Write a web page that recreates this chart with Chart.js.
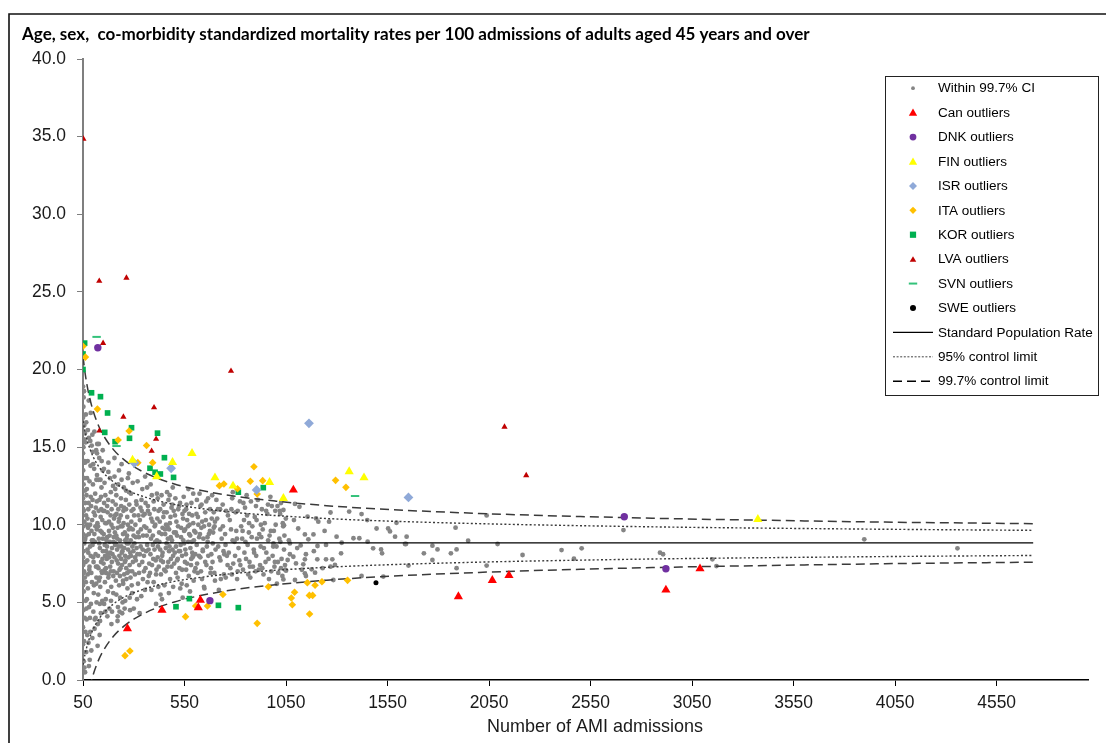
<!DOCTYPE html>
<html><head><meta charset="utf-8">
<script src="https://cdn.jsdelivr.net/npm/chart.js@4.4.1/dist/chart.umd.min.js"></script>
<style>html,body{margin:0;padding:0;background:#fff;overflow:hidden}#wrap{position:relative;width:1106px;height:743px}</style>
</head><body><div id="wrap"><canvas id="c" width="1106" height="743"></canvas></div>
<script>
// ---------- texts ----------
const titleText = 'Age, sex,  co-morbidity standardized mortality rates per 100 admissions of adults aged 45 years and over';
const xAxisTitle = 'Number of AMI admissions';
const legendLabels = ['Within 99.7% CI','Can outliers','DNK outliers','FIN outliers','ISR outliers','ITA outliers','KOR outliers','LVA outliers','SVN outliers','SWE outliers','Standard Population Rate','95% control limit','99.7% control limit'];

// ---------- ticks ----------
const xTicks = [50,550,1050,1550,2050,2550,3050,3550,4050,4550];
const xTickLabels = ['50','550','1050','1550','2050','2550','3050','3550','4050','4550'];
const yTicks = [0,5,10,15,20,25,30,35,40];
const yTickLabels = ['0.0','5.0','10.0','15.0','20.0','25.0','30.0','35.0','40.0'];

// ---------- control limits ----------
const limitN = [50,60,75,100,125,150,200,250,300,400,500,600,800,1000,1250,1500,2000,2500,3000,3500,4000,4500,4730];
const upper95 = [16.68,16.00,15.24,14.38,13.80,13.36,12.76,12.34,12.04,11.61,11.31,11.10,10.79,10.59,10.40,10.26,10.07,9.94,9.84,9.77,9.71,9.66,9.64];
const lower95 = [0.98,1.66,2.42,3.28,3.86,4.30,4.90,5.32,5.62,6.05,6.35,6.56,6.87,7.07,7.26,7.40,7.59,7.72,7.82,7.89,7.95,8.00,8.02];
const upper997 = [20.85,19.80,18.64,17.33,16.43,15.77,14.84,14.21,13.74,13.08,12.63,12.30,11.83,11.52,11.23,11.02,10.73,10.53,10.38,10.27,10.17,10.10,10.07];
const lower997 = [-3.19,-2.14,-0.98,0.33,1.23,1.89,2.82,3.45,3.92,4.58,5.03,5.36,5.83,6.14,6.43,6.64,6.93,7.13,7.28,7.39,7.49,7.56,7.59];
const stdRateN = [50,4730];
const stdRateV = [8.83,8.83];

// ---------- within 99.7% CI  [admissions, rate] ----------
const withinA = [[50,18.9],[53,12.6],[51,7.4],[55,15.5],[50,3.4],[57,10.2],[52,17.6],[54,5.7],[50,9.4],[58,14.1],[51,1.8],[53,8.3],[56,16.4],[50,11.7],[52,4.5],[59,6.6],[51,13.5],[55,2.5],[50,7.9],[54,10.9],[57,0.8],[52,15.0],[50,6.1],[53,18.2],[56,8.8],[51,11.0],[58,4.0],[50,14.6],[54,1.2],[52,9.9],[60,12.2],[55,7.0],[50,16.9],[62,3.1],[61,9.1],[57,13.0],[63,5.1],[64,17.1],[60,0.5],[50,2.3],[65,10.6],[53,6.9],[59,15.9]];
const withinB = [[67,11.9],[94,6.3],[128,9.1],[79,15.6],[112,4.0],[141,12.4],[71,7.7],[103,10.8],[135,6.0],[86,3.1],[119,13.2],[148,8.3],[75,9.8],[98,14.7],[126,7.2],[90,11.2],[145,5.1],[69,5.2],[108,8.9],[137,10.5],[82,12.8],[116,6.6],[147,13.5],[73,14.1],[101,4.4],[131,11.6],[88,8.0],[123,3.6],[77,2.4],[110,12.0],[139,7.6],[92,9.6],[66,16.6],[121,10.1],[84,6.9],[106,16.0],[143,9.5],[96,2.7],[130,14.3],[72,10.4],[114,7.3],[80,4.7],[133,8.5],[99,12.6],[125,5.5],[68,3.9],[87,13.8],[118,9.7],[149,10.9],[76,8.2],[104,6.1],[138,4.3],[93,15.1],[127,12.9],[81,7.1],[113,11.1],[144,6.9],[70,13.0],[97,8.7],[132,2.9],[85,10.0],[120,15.2],[74,5.9],[107,3.3],[140,11.0],[91,1.9],[124,8.0],[78,11.4],[111,9.9],[146,7.8],[83,1.3],[102,7.6],[136,12.9],[89,4.9],[117,5.0],[142,14.1],[95,10.3],[129,6.4],[105,13.6],[100,9.0],[88,17.2],[78,18.0],[115,14.8],[122,2.2],[134,3.8]];
const withinC = [[152,9.4],[187,12.1],[263,7.2],[214,5.5],[171,10.8],[239,8.6],[298,11.0],[158,6.3],[205,13.1],[276,9.7],[193,4.4],[226,10.2],[167,7.8],[251,12.4],[182,8.9],[290,6.1],[219,9.1],[160,11.9],[245,5.0],[201,7.0],[283,8.2],[175,13.4],[232,6.7],[268,10.5],[154,4.9],[211,11.3],[296,7.6],[189,6.0],[258,9.0],[223,12.6],[164,8.3],[280,5.3],[197,9.8],[242,7.4],[173,5.7],[286,12.0],[229,8.0],[156,12.7],[264,6.5],[208,8.7],[178,9.6],[249,10.9],[293,8.6],[216,7.7],[162,5.2],[237,11.7],[184,7.3],[271,13.0],[203,10.4],[255,4.6],[169,9.2],[299,9.3],[221,4.1],[191,11.0],[274,7.9],[235,9.9],[157,7.1],[212,6.4],[261,11.6],[180,4.6],[244,8.3],[195,8.1],[288,10.2],[227,13.5],[166,10.1],[253,6.8],[207,9.5],[282,4.5],[176,6.8],[240,12.9],[199,5.6],[266,8.8],[153,13.6],[230,7.1],[278,11.3],[186,10.6],[218,8.4],[247,9.4],[170,4.1],[292,5.6],[209,12.3],[257,8.0],[163,6.9],[233,5.3],[285,9.0],[192,7.6],[269,5.9],[224,11.0],[155,10.9],[248,6.2],[200,8.9],[277,7.0],[183,13.0],[236,10.6],[214,9.3],[262,12.2],[168,8.6],[295,12.7],[228,6.1],[188,5.1],[256,7.6],[174,11.6],[243,4.3],[215,10.7],[272,8.4],[159,8.0],[284,6.6],[198,12.5],[238,7.8],[267,9.3],[179,7.9],[220,3.8],[252,11.1]];
const withinD = [[303,8.8],[347,10.6],[412,7.1],[455,9.4],[508,6.9],[563,10.3],[321,6.2],[389,11.9],[440,8.0],[497,10.9],[552,7.6],[596,9.0],[335,9.7],[376,7.5],[428,10.2],[479,6.5],[531,8.7],[584,11.4],[312,11.5],[361,8.3],[403,9.9],[466,7.3],[519,11.0],[571,6.7],[327,7.4],[398,6.3],[447,11.3],[502,8.2],[548,9.6],[590,7.9],[342,12.3],[385,9.1],[434,6.8],[488,9.0],[540,10.7],[579,8.5],[308,10.0],[355,5.8],[419,8.6],[471,11.6],[525,7.2],[567,9.9],[330,8.1],[370,10.9],[425,9.5],[483,7.8],[536,6.2],[588,10.6],[316,5.2],[366,12.4],[408,7.7],[459,10.0],[513,9.3],[558,7.1],[339,10.9],[394,8.7],[451,6.1],[505,11.7],[557,8.1],[599,7.0],[325,9.2],[380,6.9],[437,11.9],[491,8.4],[544,9.0],[593,12.0],[350,7.0],[416,10.4],[462,8.8],[516,6.6],[575,10.0],[306,6.8],[358,11.4],[421,6.0],[474,9.7],[528,11.4],[582,7.4],[333,11.1],[392,10.2],[444,7.6],[499,7.5],[550,10.9],[319,12.8],[373,8.4],[430,8.4],[486,11.1],[538,8.0],[586,8.9],[345,6.5],[401,11.0],[457,7.0],[510,10.2],[561,6.1],[314,8.5],[364,9.3],[414,12.0],[468,9.1],[522,8.3],[573,9.4],[337,5.4],[387,5.8],[442,9.8],[494,6.0],[546,11.8],[595,6.4],[352,9.9],[406,8.9],[464,12.1],[517,7.8],[569,12.3],[310,7.7],[378,10.7],[432,5.5],[481,10.5],[533,9.8],[577,5.7],[323,10.6],[368,6.3],[423,7.3],[476,8.6],[529,5.9],[591,8.0],[344,8.4],[396,7.8],[449,10.8],[507,9.5],[554,8.4],[300,4.6],[383,12.6],[439,5.2],[492,12.4],[560,11.3],[329,4.3],[410,4.9],[473,5.6],[541,5.3],[356,13.1],[418,11.7],[477,11.9]];
const withinE = [[604,9.5],[652,7.6],[711,10.4],[768,8.2],[829,9.9],[887,7.3],[945,10.1],[1003,8.6],[628,11.2],[689,8.8],[744,6.8],[801,10.8],[861,8.7],[918,9.4],[977,7.0],[1036,9.9],[615,6.9],[671,10.0],[733,9.1],[790,7.5],[848,11.1],[903,8.0],[962,9.0],[1021,10.7],[640,8.3],[700,6.4],[755,10.9],[816,8.5],[874,6.6],[931,11.0],[990,9.6],[1045,7.4],[609,10.7],[663,9.2],[722,7.9],[779,9.7],[838,7.1],[896,10.5],[953,8.2],[1012,6.9],[646,6.0],[707,11.6],[762,7.4],[823,11.5],[881,9.2],[939,6.8],[997,10.9],[633,9.8],[694,10.8],[750,9.4],[809,6.5],[868,10.1],[925,8.6],[984,8.0],[1040,8.4],[621,8.0],[680,7.2],[738,11.3],[796,8.9],[853,7.8],[911,11.6],[969,9.3],[1028,7.8],[657,11.5],[716,8.6],[773,10.3],[834,9.1],[891,8.4],[949,7.6],[1008,11.2],[612,7.5],[675,9.6],[729,6.5],[785,11.7],[843,10.3],[900,7.0],[958,10.7],[1017,9.1],[637,10.2],[698,9.9],[759,8.0],[820,7.7],[877,11.5],[935,9.7],[993,7.3],[1049,10.4],[624,12.0],[686,11.9],[742,8.3],[805,9.6],[864,6.8],[922,7.4],[980,11.2],[1032,6.7],[660,8.6],[726,9.7],[783,6.8],[845,8.2],[907,9.1],[966,6.5],[1025,11.4],[648,5.9],[719,5.8],[788,12.1],[856,11.9],[973,11.8],[1005,6.2]];
const withinF = [[1037,10.95],[1116,11.16],[1094,11.34],[1040,9.96],[1156,10.52],[1198,10.41],[1209,10.2],[1269,10.79],[1361,10.85],[1422,10.69],[1450,10.3],[1594,10.13],[1496,9.76],[1553,9.76],[1562,9.57],[1587,9.23],[1644,9.23],[1641,8.76],[1885,9.81],[1947,8.97],[1110,9.76],[1143,9.38],[1185,9.38],[1160,9.06],[1299,9.23],[1382,9.13],[1411,9.13],[1452,8.91],[1069,8.8],[1122,8.67],[1205,8.63],[1247,8.7],[1324,8.84],[1321,8.16],[1479,8.48],[1518,8.41],[1523,8.16],[1636,8.76],[1729,8.16],[1771,8.65],[1796,8.41],[1862,8.16],[1890,8.41],[2092,8.76],[2215,8.05],[1148,8.1],[1069,8.1],[1086,7.94],[1058,7.73],[1099,7.51],[1135,7.45],[1143,7.77],[1204,7.77],[1247,7.77],[1278,7.77],[1291,7.41],[1269,7.3],[1025,7.2],[1050,7.04],[1176,7.13],[1230,7.2],[1653,7.37],[1771,7.73],[1890,7.2],[2038,7.37],[1143,6.87],[1193,6.91],[1148,6.7],[1422,6.7],[1529,6.66],[1037,6.48],[1094,6.44],[1283,6.44],[2038,10.6],[2712,9.66],[3898,9.06],[4357,8.48],[2407,8.37],[2506,8.48],[2468,7.81],[2892,8.2],[2907,8.1],[3150,7.77],[3170,7.34]];
const withinG = [[58,9.0],[61,11.4],[63,7.6],[66,9.3],[69,12.3],[72,8.4],[64,6.3],[67,4.6],[70,10.0],[73,6.8],[76,11.0],[79,9.4],[82,7.3],[85,8.6],[88,11.8],[91,6.9],[94,9.0],[97,11.6],[100,7.9],[103,5.6],[106,9.4],[109,10.6],[112,8.1],[115,6.2],[118,11.5],[121,7.3],[124,9.9],[127,10.9],[130,8.8],[133,6.6],[136,9.6],[139,11.8],[142,7.0],[145,10.3],[148,9.1],[151,7.5],[154,11.4],[157,8.7],[160,10.1],[163,7.2],[166,9.0],[169,11.2],[172,8.1],[175,6.6],[178,10.2],[181,9.3],[184,8.2],[187,7.0],[190,10.0],[193,8.5],[196,11.5],[199,6.7],[202,9.2],[205,7.9],[208,10.6],[211,8.8],[214,11.9],[217,6.9],[220,9.8],[223,7.5],[226,8.6],[229,10.4],[232,9.0],[235,7.2],[238,11.2],[241,8.2],[244,9.9],[247,6.4],[250,10.1],[253,8.5],[256,9.5],[259,7.7],[262,11.0],[265,9.1],[268,6.9],[271,10.0],[274,8.8],[277,12.1],[280,7.4],[283,9.8],[286,8.0],[289,10.9],[292,7.0],[295,9.7],[298,8.3],[302,10.6],[306,7.9],[310,9.2],[314,11.3],[318,8.1],[322,9.5],[326,6.9],[330,10.3],[334,8.6],[338,11.6],[342,7.6],[346,9.3],[350,8.0],[354,10.7],[358,7.2],[362,9.8],[366,8.7],[370,11.2],[374,6.7],[378,9.6],[382,8.1],[386,10.4],[390,7.4],[394,9.3],[398,11.5],[402,8.4],[406,10.0],[410,6.8],[414,9.0],[418,7.9],[422,10.9],[426,8.9],[430,11.0],[434,7.7],[438,9.4],[442,8.2],[446,10.5],[450,7.1],[454,9.7],[458,8.5],[462,10.8],[466,9.9],[470,7.6],[474,8.3],[478,10.1],[482,9.2],[486,7.3],[490,11.3],[494,8.0],[498,9.5],[503,10.6],[508,8.6],[513,7.7],[518,9.9],[523,11.2],[528,8.3],[533,9.2],[538,7.1],[543,10.4],[548,8.8],[553,9.7],[558,11.0],[563,7.5],[568,8.9],[573,10.7],[578,9.3],[583,7.8],[588,8.2],[593,10.1],[598,9.6],[604,7.2],[610,8.7],[616,10.5],[622,9.2],[628,7.9],[634,11.3],[640,8.4],[646,9.9],[652,10.8],[658,7.4],[664,8.9],[670,9.4],[676,11.0],[682,8.1],[688,7.6],[694,9.8],[700,10.2],[71,2.9],[84,4.0],[96,15.8],[108,3.9],[119,14.6],[133,4.9],[147,14.8],[160,4.4],[175,14.0],[190,3.6],[205,14.3],[222,4.7],[240,13.9],[258,5.1],[276,13.3],[230,4.4],[66,1.8],[79,0.9],[60,14.0],[55,18.6],[62,15.3],[74,16.1],[86,15.4],[100,13.9],[116,12.9],[128,15.2]];
const withinH = [[603,8.1],[618,10.0],[631,7.0],[643,9.1],[655,10.3],[667,8.0],[678,6.9],[691,9.5],[703,8.4],[714,11.0],[727,7.7],[739,9.9],[752,8.7],[764,10.6],[776,7.2],[787,9.0],[799,8.0],[812,10.9],[825,7.4],[836,9.6],[850,8.9],[858,10.6],[870,7.6],[884,9.9],[893,8.2],[905,10.3],[916,7.1],[928,9.2],[941,8.5],[952,10.9],[964,7.8],[975,9.6],[987,8.6],[999,10.0],[1010,7.6],[1022,8.9],[1034,10.1],[1046,7.1],[611,11.6],[636,6.5],[666,11.7],[697,6.9],[725,11.0],[753,6.6],[781,11.0],[812,7.0],[840,11.4],[872,7.3],[902,11.2],[933,7.2],[961,11.3],[995,7.6],[1019,10.9],[626,9.4],[684,10.4],[746,8.1],[808,9.1],[867,9.5],[926,10.0],[988,8.8],[1042,9.3],[1064,9.0],[1089,10.3],[1105,8.5],[1128,7.1],[1187,8.3],[1240,9.6],[1262,10.2]];

// ---------- outliers ----------
const canOut = [[1086,12.24],[269,3.31],[439,4.51],[618,4.66],[628,5.15],[1899,5.37],[2066,6.42],[2148,6.74],[2921,5.8],[3089,7.17]];
const dnkOut = [[123,21.4],[675,5.11],[2716,10.52],[2921,7.17]];
const finOut = [[294,14.17],[491,14.02],[587,14.6],[413,13.1],[700,13.03],[789,12.5],[969,12.73],[1037,11.7],[1361,13.42],[1434,13.03],[3374,10.35]];
const isrOut = [[303,13.97],[484,13.64],[905,12.24],[1163,16.53],[1653,11.76]];
const itaOut = [[50,21.5],[62,20.8],[121,17.45],[277,16.04],[223,15.46],[363,15.1],[320,14.0],[393,14.0],[892,13.74],[744,12.62],[722,12.52],[874,12.8],[935,12.84],[811,12.32],[908,11.98],[1294,12.86],[1345,12.41],[963,6.01],[739,5.51],[605,4.77],[663,4.77],[555,4.08],[908,3.65],[281,1.87],[257,1.57],[1155,6.27],[1092,5.65],[1193,6.1],[1227,6.33],[1353,6.42],[1076,5.28],[1165,5.45],[1181,5.45],[1081,4.85],[1166,4.25]];
const korOut = [[58,21.7],[50,21.0],[50,20.0],[92,18.5],[136,18.25],[171,17.2],[157,15.95],[289,16.25],[208,15.35],[279,15.57],[417,15.9],[451,14.32],[380,13.64],[405,13.38],[431,13.27],[496,13.05],[815,12.1],[938,12.39],[574,5.24],[717,4.81],[815,4.66],[508,4.72]];
const lvaOut = [[52,34.85],[130,25.7],[264,25.9],[149,21.7],[779,19.9],[400,17.55],[249,16.95],[131,16.05],[410,15.52],[388,14.75],[2126,16.3],[2233,13.18]];
const svnOut = [[117,22.1],[215,15.07],[1390,11.85]];
const sweOut = [[1493,6.27]];

// ---------- helpers ----------
const pts = arr => arr.map(p => ({x:p[0], y:p[1]}));
const line = (ns, vs) => ns.map((n,i) => ({x:n, y:vs[i]}));
const mctx = document.createElement('canvas').getContext('2d');
function fit(text, font, target){ mctx.font = font.replace('{s}','100px'); return 100*target/mctx.measureText(text).width; }
const sansFam = '"Liberation Sans", Arial, sans-serif';
const titleFam = 'Lato, "Open Sans", sans-serif';
const tickSize = fit('40.0', '{s} ' + sansFam, 34);
const axisTitleSize = fit(xAxisTitle, '{s} ' + sansFam, 216);
const legendSize = fit('Standard Population Rate', '{s} ' + sansFam, 155);
const titleSize = fit(titleText, 'bold {s} ' + titleFam, 788);

const GRAY = '#858585';
const outlierStyles = [
  {data: canOut, style:'triangle', r:5.3, color:'#FF0000', lr:4.8},
  {data: dnkOut, style:'circle', r:3.7, color:'#7030A0', lr:3.4},
  {data: finOut, style:'triangle', r:5.3, color:'#FFFF00', lr:4.8},
  {data: isrOut, style:'rectRot', r:4.9, color:'#8FA9D8', lr:4.0},
  {data: itaOut, style:'rectRot', r:3.8, color:'#FFC000', lr:3.6},
  {data: korOut, style:'rect', r:4.0, color:'#00B050', lr:4.4},
  {data: lvaOut, style:'triangle', r:3.6, color:'#C00000', lr:3.8},
  {data: svnOut, style:'line', r:4.2, color:'#33C27A', lr:4.2},
  {data: sweOut, style:'circle', r:2.5, color:'#000000', lr:3.0}
];

const datasets = [];
outlierStyles.forEach((o,i) => {
  datasets.push({type:'scatter', label: legendLabels[i+1], data: pts(o.data), order: 0,
    pointStyle: o.style, pointRadius: o.r, pointHoverRadius: o.r,
    pointBackgroundColor: o.color, pointBorderColor: o.color,
    pointBorderWidth: o.style === 'line' ? 2 : 0});
});
datasets.push({type:'line', label: legendLabels[10], data: line(stdRateN, stdRateV), order: 1,
  borderColor:'#000', borderWidth:1.2, pointRadius:0, fill:false});
datasets.push({type:'line', label: legendLabels[11], data: line(limitN, upper95), order: 1,
  borderColor:'#3a3a3a', borderWidth:1.4, borderDash:[2,2.2], pointRadius:0, fill:false, cubicInterpolationMode:'monotone'});
datasets.push({type:'line', label: legendLabels[11], data: line(limitN, lower95), order: 1,
  borderColor:'#3a3a3a', borderWidth:1.4, borderDash:[2,2.2], pointRadius:0, fill:false, cubicInterpolationMode:'monotone'});
datasets.push({type:'line', label: legendLabels[12], data: line(limitN, upper997), order: 1,
  borderColor:'#3a3a3a', borderWidth:1.5, borderDash:[9,5], pointRadius:0, fill:false, cubicInterpolationMode:'monotone'});
datasets.push({type:'line', label: legendLabels[12], data: line(limitN, lower997), order: 1,
  borderColor:'#3a3a3a', borderWidth:1.5, borderDash:[9,5], pointRadius:0, fill:false, cubicInterpolationMode:'monotone'});
datasets.push({type:'scatter', label: legendLabels[0],
  data: pts([].concat(withinA, withinB, withinC, withinD, withinE, withinF, withinG, withinH)), order: 2,
  pointStyle:'circle', pointRadius:2.4, pointHoverRadius:2.4, pointBackgroundColor:GRAY, pointBorderWidth:0});

function drawMarker(ctx, style, x, y, r, color){
  ctx.fillStyle = color; ctx.strokeStyle = color;
  ctx.beginPath();
  if (style === 'circle') { ctx.arc(x, y, r, 0, Math.PI*2); ctx.fill(); }
  else if (style === 'triangle') { ctx.moveTo(x, y - r); ctx.lineTo(x + r*0.866, y + r*0.5); ctx.lineTo(x - r*0.866, y + r*0.5); ctx.closePath(); ctx.fill(); }
  else if (style === 'rectRot') { ctx.moveTo(x - r, y); ctx.lineTo(x, y - r); ctx.lineTo(x + r, y); ctx.lineTo(x, y + r); ctx.closePath(); ctx.fill(); }
  else if (style === 'rect') { const h = r*0.707; ctx.rect(x - h, y - h, 2*h, 2*h); ctx.fill(); }
  else if (style === 'line') { ctx.lineWidth = 2; ctx.moveTo(x - r, y); ctx.lineTo(x + r, y); ctx.stroke(); }
}

const deco = {
  id: 'deco',
  afterDraw(chart) {
    const ctx = chart.ctx;
    ctx.save();
    // outer frame
    ctx.strokeStyle = '#111'; ctx.lineWidth = 1.6; ctx.setLineDash([]);
    ctx.beginPath(); ctx.moveTo(9, 743); ctx.lineTo(9, 14); ctx.lineTo(1106, 14); ctx.stroke();
    // title
    ctx.fillStyle = '#000'; ctx.textAlign = 'left'; ctx.textBaseline = 'alphabetic';
    ctx.font = 'bold ' + titleSize + 'px ' + titleFam;
    ctx.fillText(titleText, 22, 40);
    // x axis title
    ctx.fillStyle = '#1a1a1a'; ctx.textAlign = 'center'; ctx.textBaseline = 'middle';
    ctx.font = axisTitleSize + 'px ' + sansFam;
    ctx.fillText(xAxisTitle, 595, 727);
    // legend box
    ctx.fillStyle = '#fff'; ctx.fillRect(885.5, 76.5, 213, 319);
    ctx.strokeStyle = '#222'; ctx.lineWidth = 1;
    ctx.strokeRect(885.5, 76.5, 213, 319);
    const step = 24.42, y0 = 88.2, mx = 913;
    ctx.font = legendSize + 'px ' + sansFam;
    legendLabels.forEach((lab, i) => {
      const y = y0 + i*step;
      if (i === 0) drawMarker(ctx, 'circle', mx, y, 1.9, GRAY);
      else if (i <= 9) { const o = outlierStyles[i-1]; drawMarker(ctx, o.style, mx, y + (o.style==='triangle'?0.8:0), o.lr, o.color); }
      else {
        ctx.beginPath(); ctx.strokeStyle = '#000';
        if (i === 10) { ctx.setLineDash([]); ctx.lineWidth = 1.2; }
        else if (i === 11) { ctx.setLineDash([2,1.6]); ctx.lineWidth = 1; ctx.strokeStyle = '#444'; }
        else { ctx.setLineDash([9,5]); ctx.lineWidth = 1.3; }
        ctx.moveTo(893, y); ctx.lineTo(933, y); ctx.stroke(); ctx.setLineDash([]);
      }
      ctx.fillStyle = '#000'; ctx.textAlign = 'left'; ctx.textBaseline = 'middle';
      ctx.fillText(lab, 938, y + 0.5);
    });
    ctx.restore();
  }
};

new Chart(document.getElementById('c'), {
  type: 'scatter',
  data: { datasets },
  options: {
    responsive: false, animation: false, events: [],
    layout: { padding: { top: 59, right: 18, bottom: 0, left: 0 } },
    plugins: { legend: { display: false }, tooltip: { enabled: false }, title: { display: false } },
    scales: {
      x: {
        type: 'linear', min: 50, max: 5000,
        afterBuildTicks: s => { s.ticks = xTicks.map(v => ({ value: v })); },
        afterFit: s => { s.height = 63; },
        ticks: { callback: v => xTickLabels[xTicks.indexOf(v)], autoSkip: false, maxRotation: 0, padding: 7,
          color: '#1a1a1a', font: { family: sansFam, size: tickSize } },
        grid: { drawOnChartArea: false, drawTicks: true, tickLength: 6, color: '#000', lineWidth: 1 },
        border: { display: true, color: '#000', width: 1.6 }
      },
      y: {
        type: 'linear', min: 0, max: 40,
        afterBuildTicks: s => { s.ticks = yTicks.map(v => ({ value: v })); },
        afterFit: s => { s.width = 83; },
        ticks: { callback: v => yTickLabels[yTicks.indexOf(v)], autoSkip: false, padding: 11,
          color: '#1a1a1a', font: { family: sansFam, size: tickSize } },
        grid: { drawOnChartArea: false, drawTicks: true, tickLength: 6, color: '#7f7f7f', lineWidth: 1 },
        border: { display: true, color: '#7f7f7f', width: 2 }
      }
    }
  },
  plugins: [deco]
});
</script>
</body></html>
